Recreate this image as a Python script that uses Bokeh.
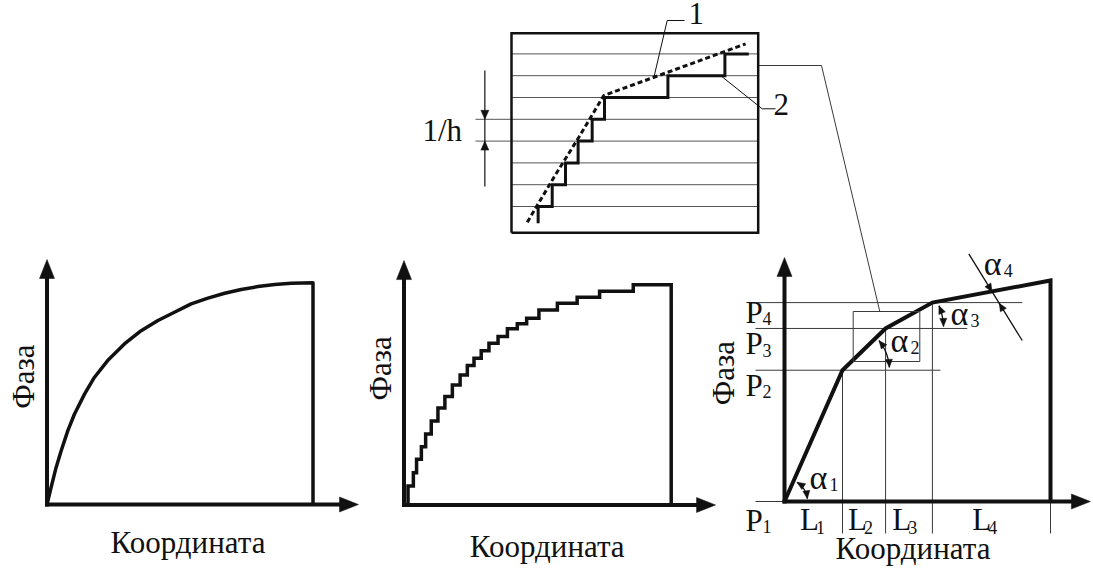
import math
from bokeh.plotting import figure
from bokeh.models import Range1d
from bokeh.core.properties import value
from bokeh.embed import file_html
from bokeh.resources import INLINE

# ---------------- data (panel-local units) ----------------
# Panel A: continuous phase profile, % of panel width / height
smooth_x = [0, 1.5, 3.4, 5.3, 7.8, 10.3, 14.1, 17.8, 22.8, 29.1, 35.4, 41.7,
            47.9, 54.2, 60.5, 66.8, 73.0, 79.3, 85.6, 91.8, 100]
smooth_y = [0, 7.5, 16.6, 24.1, 33.2, 40.7, 49.8, 57.3, 64.9, 72.4, 78.4, 83.0,
            86.7, 90.5, 93.1, 95.3, 97.0, 98.3, 99.2, 99.8, 100]

# Panel B: quantized (stepped) phase profile
step_x = [1.5, 3.5, 4.7, 6.5, 8.1, 10.2, 12.7, 15.3, 18.1, 21.0, 23.7, 26.2,
          28.9, 31.8, 35.2, 38.7, 42.4, 45.9, 50.5, 57.4, 64.8, 73.2, 85.8]
step_y = [8.6, 14.7, 20.8, 26.5, 32.2, 38.2, 44.0, 49.3, 54.5, 59.0, 63.3, 66.6,
          70.1, 73.4, 76.5, 80.0, 82.3, 84.8, 88.6, 91.6, 94.4, 97.1, 100]

# Panel C: piecewise-linear approximation
seg_len = [21.8, 16.2, 17.6, 44.4]          # L1..L4
p_level = [0, 59.4, 78.3, 90.0, 100]        # P1..P4, end
seg_labels = ["L", "L", "L", "L"]
seg_subs = ["1", "2", "3", "4"]
p_labels = ["P", "P", "P", "P"]
p_subs = ["1", "2", "3", "4"]
alpha_subs = ["1", "2", "3", "4"]

# Top inset: quantization levels (x: % of box width, y: level index)
q_levels = [1, 2, 3, 4, 5, 6, 7, 8]
q_step_x = [10.8, 16.5, 21.9, 27.0, 32.7, 37.7, 63.4, 86.5, 96.2]
q_start = 0.23
dash_x = [6.4, 17.2, 27.3, 37.4, 94.9]
dash_y = [0.28, 2.34, 4.18, 6.09, 8.46]

axis_title_x = "Координата"
axis_title_y = "Фаза"

# ---------------- layout ----------------
W, H = 1093, 569
FONT = value("Liberation Serif")
ASC = 0.891          # font ascent (em) used to place text by its baseline
BIG = 31
SUB = 18
ALPHA = 34
INK = "#111111"
THIN = "#3a3a3a"

PA = dict(x0=46.5, y0=504.0, sx=2.66, sy=2.217)
PB = dict(x0=403.5, y0=504.5, sx=2.672, sy=2.202)
PC = dict(x0=784.0, y0=501.0, sx=2.66, sy=2.21)
PT = dict(x0=511.0, y0=227.8, sx=2.467, sy=21.8)


def tf(P, xs, ys):
    return ([P["x0"] + x * P["sx"] for x in xs],
            [H - P["y0"] + y * P["sy"] for y in ys])


def px(x, y):
    return x, H - y


p = figure(width=W, height=H, x_range=Range1d(0, W), y_range=Range1d(0, H),
           output_backend="svg", toolbar_location=None, x_axis_type=None, y_axis_type=None,
           min_border=0, outline_line_color=None, background_fill_color="white",
           border_fill_color="white")
p.grid.visible = False


def txt(xs, ys, texts, size, align="left", rotated=False):
    """xs, ys: figure coords of the text baseline anchor."""
    if rotated:
        xs = [x - ASC * size for x in xs]
        ang = math.pi / 2
    else:
        ys = [y + ASC * size for y in ys]
        ang = 0
    p.text(x=list(xs), y=list(ys), text=list(texts), text_font=FONT,
           text_font_size=f"{size}px", text_align=align, text_baseline="top",
           angle=ang, text_color=INK)


heads_x, heads_y = [], []


def head(tx, ty, ang, length, half):
    bx = tx - length * math.cos(ang)
    by = ty - length * math.sin(ang)
    nx, ny = -math.sin(ang), math.cos(ang)
    heads_x.append([tx, bx + half * nx, bx - half * nx])
    heads_y.append([ty, by + half * ny, by - half * ny])


def axes(P, tipx, tipy):
    (ox,), (oy,) = tf(P, [0], [0])
    (tx,), _ = tf(P, [tipx], [0])
    _, (ty,) = tf(P, [0], [tipy])
    p.line([ox - 2, tx - 8], [oy, oy], line_color=INK, line_width=4)
    p.line([ox, ox], [oy - 2, ty - 8], line_color=INK, line_width=4)
    head(tx, oy, 0.0, 19, 7.5)
    head(ox, ty, math.pi / 2, 19, 7.5)


def titles(P, xt, yt):
    x, y = tf(P, [xt[0]], [xt[1]])
    txt(x, y, [axis_title_x], BIG, align="center")
    x, y = tf(P, [yt[0]], [yt[1]])
    txt(x, y, [axis_title_y], BIG, align="center", rotated=True)


# ----- Panel A -----
ax_, ay_ = tf(PA, smooth_x + [smooth_x[-1]], smooth_y + [0])
p.line(ax_, ay_, line_color=INK, line_width=3.5, line_join="round")
axes(PA, 117.1, 110.5)
titles(PA, (53.0, -21.5), (-5.0, 57.7))

# ----- Panel B -----
bx, by = [step_x[0]], [0]
for sx_, sy_ in zip(step_x, step_y):
    bx += [sx_, sx_]
    by += [by[-1], sy_]
bx = [step_x[0]] + bx[2:] + [100, 100]
by = [0] + by[2:] + [step_y[-1], 0]
fx, fy = tf(PB, bx, by)
p.line(fx, fy, line_color=INK, line_width=3.5, line_join="miter")
axes(PB, 116.6, 111.0)
titles(PB, (53.6, -23.4), (-5.05, 62.0))

# ----- Panel C -----
brk = [0]
for L in seg_len:
    brk.append(brk[-1] + L)
left_ext = -10.9
below = -14.5
h_right = [0, 58.6, 68.7, 89.4]
for lvl, xr in zip(p_level[:4], h_right):
    x, y = tf(PC, [left_ext, xr], [lvl, lvl])
    p.line(x, y, line_color=THIN, line_width=1)
for xb, lvl in zip(brk[1:], p_level[1:4] + [0]):
    x, y = tf(PC, [xb, xb], [lvl, below])
    p.line(x, y, line_color=THIN, line_width=1)
cx, cy = tf(PC, brk + [brk[-1]], p_level + [0])
p.line(cx, cy, line_color=INK, line_width=4, line_join="miter")
axes(PC, 115.0, 110.4)
titles(PC, (48.3, -25.8), (-19.1, 58.1))

# P labels
p_lbl_y = [-13.0, 48.0, 66.8, 81.1]
x, y = tf(PC, [-14.7] * 4, p_lbl_y)
txt(x, y, p_labels, BIG)
txt([v + 17 for v in x], [v - 6 for v in y], p_subs, SUB)
# L labels
l_lbl_x = [5.8, 23.9, 40.5, 70.6]
x, y = tf(PC, l_lbl_x, [-12.7] * 4)
txt(x, y, seg_labels, BIG)
txt([v + 16 for v in x], [v - 7 for v in y], seg_subs, SUB)

# zoom box and connector
zx0, zy0 = px(852.7, 361)
zx1, zy1 = px(919.3, 311)
p.line([zx0, zx1, zx1, zx0, zx0], [zy0, zy0, zy1, zy1, zy0], line_color=THIN, line_width=1)
cxs, cys = zip(px(879.3, 311), px(821, 65), px(757.7, 65))
p.line(list(cxs), list(cys), line_color=THIN, line_width=1)


def arc_mark(vx, vy, r, a0, a1):
    a0r, a1r = math.radians(a0), math.radians(a1)
    p.arc(x=[vx], y=[vy], radius=r, start_angle=a0r, end_angle=a1r,
          line_color=INK, line_width=1.3)
    head(vx + r * math.cos(a0r), vy + r * math.sin(a0r), a0r - math.pi / 2, 8, 3.5)
    head(vx + r * math.cos(a1r), vy + r * math.sin(a1r), a1r + math.pi / 2, 8, 3.5)


(vx,), (vy,) = tf(PC, [0], [0])
arc_mark(vx, vy, 23, 7, 57)
(vx,), (vy,) = tf(PC, [brk[1]], [p_level[1]])
arc_mark(vx, vy, 47, 3.5, 39)
(vx,), (vy,) = tf(PC, [brk[2]], [p_level[2]])
arc_mark(vx, vy, 58, 2, 23)
a4s = px(968.3, 253.3)
a4e = px(1021.7, 340)
p.line([a4s[0], a4e[0]], [a4s[1], a4e[1]], line_color=INK, line_width=1.3)
ang = math.atan2(a4e[1] - a4s[1], a4e[0] - a4s[0])
t1 = px(991.6, 291.2)
t2 = px(998.7, 302.7)
head(t1[0], t1[1], ang, 8, 3.5)
head(t2[0], t2[1], ang + math.pi, 8, 3.5)

alpha_pos = [(809, 488.3), (890, 351.7), (950, 325), (983.3, 275)]
ax_ = [px(*a)[0] for a in alpha_pos]
ay_ = [px(*a)[1] for a in alpha_pos]
txt(ax_, ay_, ["α"] * 4, ALPHA)
txt([v + 20 for v in ax_], [v - 5 for v in ay_], alpha_subs, SUB)

# ----- Top inset -----
bxs, bys = tf(PT, [0, 100, 100, 0, 0], [-0.206, -0.206, 8.95, 8.95, -0.206])
for lv in q_levels:
    xl = -14.6 if lv in (4, 5) else 0
    x, y = tf(PT, [xl, 100], [lv, lv])
    p.line(x, y, line_color="#555555", line_width=1)
p.line(bxs, bys, line_color=INK, line_width=2.5, line_join="miter")

qx, qy = [q_step_x[0]], [q_start]
for i, lv in enumerate(q_levels):
    qx += [q_step_x[i], q_step_x[i + 1]]
    qy += [lv, lv]
fx, fy = tf(PT, qx, qy)
p.line(fx, fy, line_color=INK, line_width=3, line_join="miter")
fx, fy = tf(PT, dash_x, dash_y)
p.line(fx, fy, line_color=INK, line_width=3, line_dash="5 3")

dx, dy = tf(PT, [-10.8, -10.8], [7.24, 1.92])
p.line(dx, dy, line_color=INK, line_width=1.2)
(hx,), (hy5,) = tf(PT, [-10.8], [5])
_, (hy4,) = tf(PT, [-10.8], [4])
head(hx, hy5, -math.pi / 2, 9, 4)
head(hx, hy4, math.pi / 2, 9, 4)
tx_, ty_ = px(441.7, 140)
txt([tx_], [ty_], ["1/h"], BIG, align="center")

l1 = [px(653.3, 77.3), px(666.7, 20), px(684, 20)]
p.line([a[0] for a in l1], [a[1] for a in l1], line_color=INK, line_width=1)
l2 = [px(720, 75), px(761.7, 108.3), px(775, 108.3)]
p.line([a[0] for a in l2], [a[1] for a in l2], line_color=INK, line_width=1)
lab = [px(688, 30.5), px(773, 121.5)]
txt([a[0] for a in lab], [a[1] for a in lab], ["1", "2"], BIG)

p.patches(heads_x, heads_y, fill_color=INK, line_color=INK, line_width=0.5)

open("out.html", "w").write(file_html(p, INLINE))
